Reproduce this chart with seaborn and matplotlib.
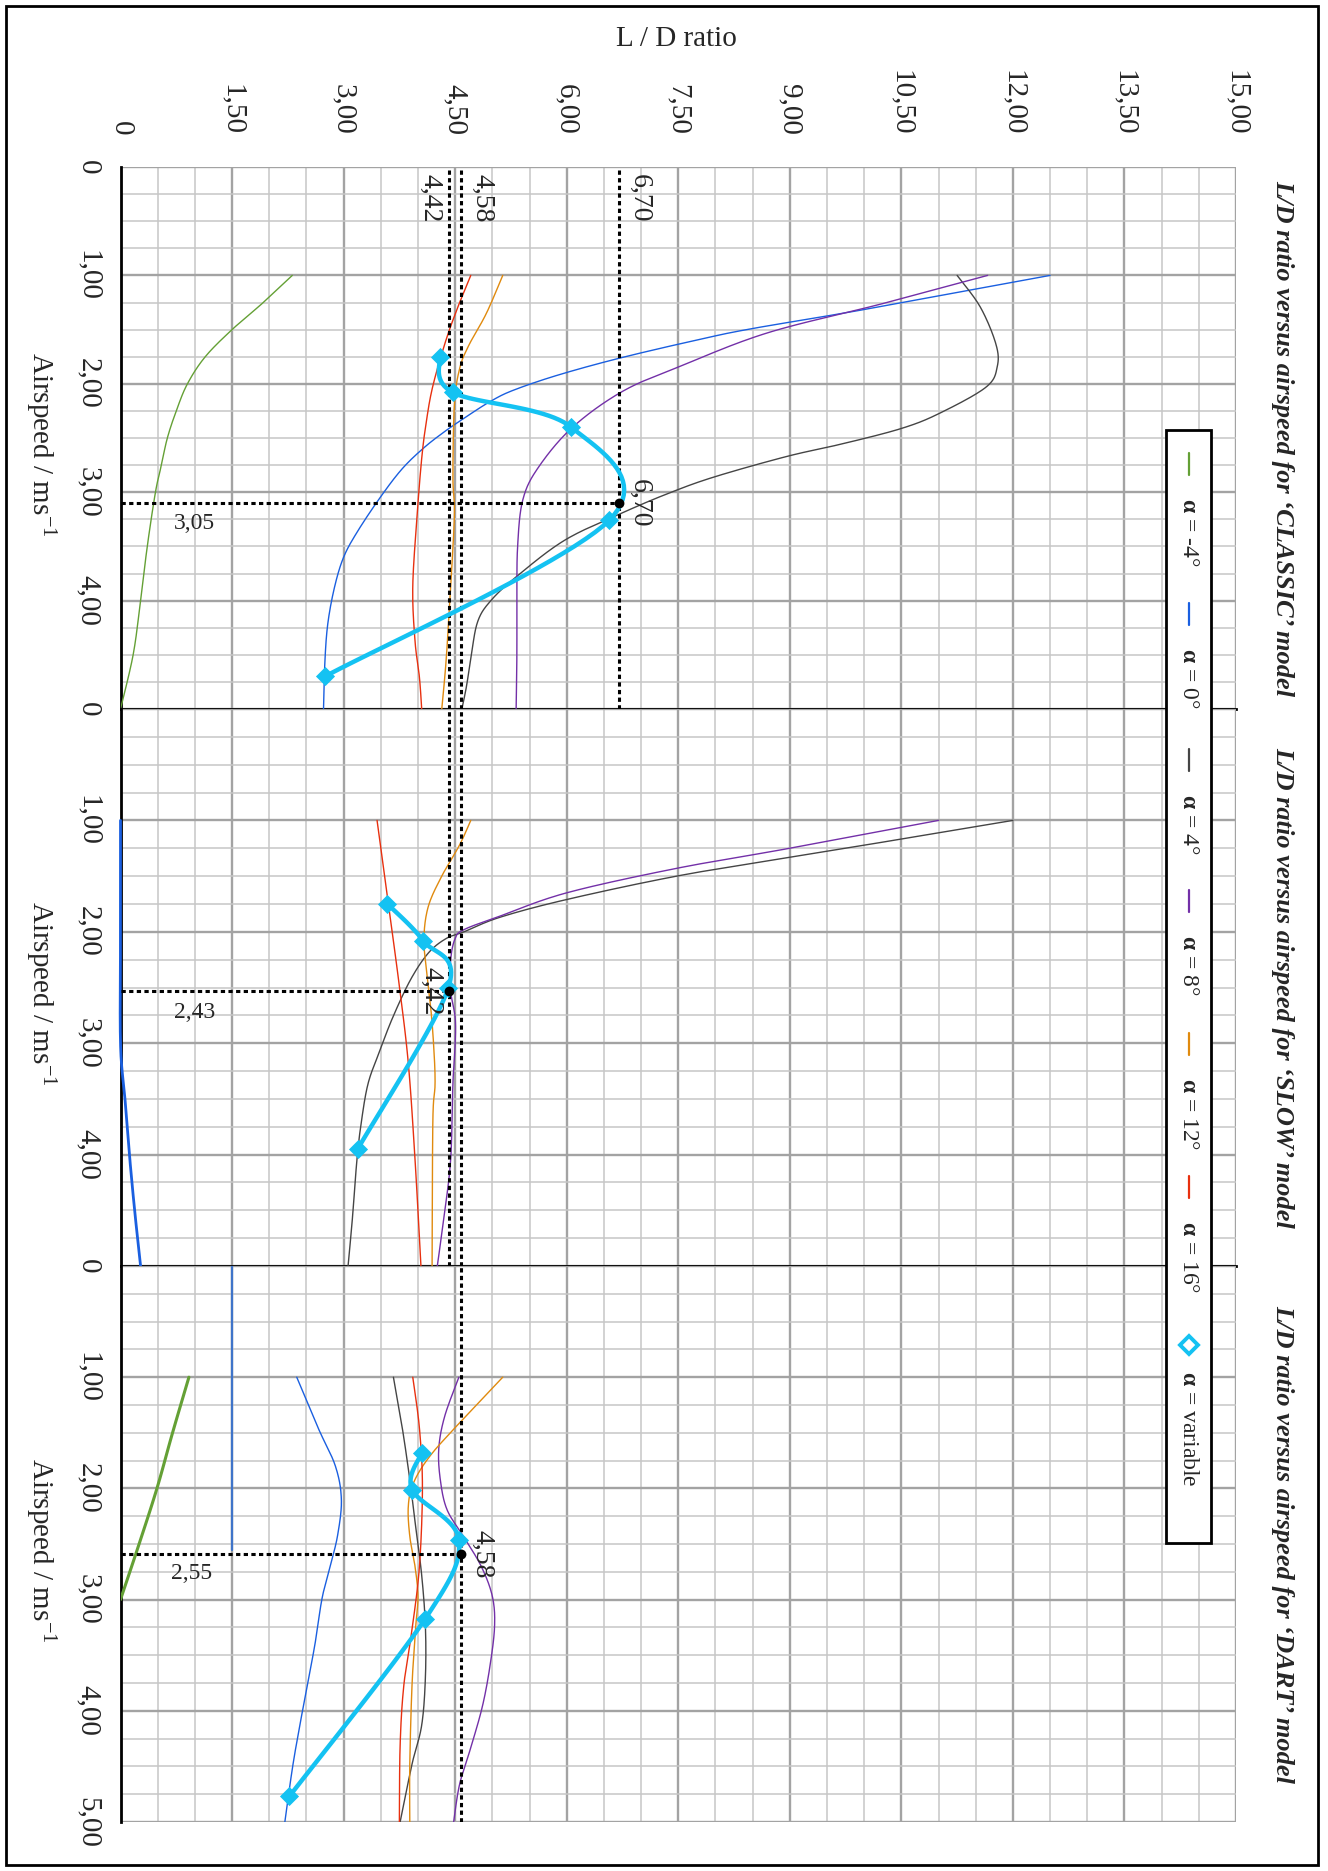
import numpy as np
import matplotlib
matplotlib.use("Agg")
import matplotlib.pyplot as plt
import seaborn as sns
from matplotlib.lines import Line2D
from matplotlib.patches import Rectangle

# ---------------- data ----------------
ld_ticks = [0, 1.5, 3, 4.5, 6, 7.5, 9, 10.5, 12, 13.5, 15]
ld_tick_labels = ["0", "1,50", "3,00", "4,50", "6,00", "7,50", "9,00",
                  "10,50", "12,00", "13,50", "15,00"]
speed_ticks = [0, 1, 2, 3, 4, 5]
speed_tick_labels = ["0", "1,00", "2,00", "3,00", "4,00", "5,00"]

panel_titles = ["L/D ratio versus airspeed for \u2018CLASSIC\u2019 model",
                "L/D ratio versus airspeed for \u2018SLOW\u2019 model",
                "L/D ratio versus airspeed for \u2018DART\u2019 model"]
series_labels = ["-4\u00b0", "0\u00b0", "4\u00b0", "8\u00b0", "12\u00b0", "16\u00b0", "variable"]
series_colors = ["#64A035", "#1A5FE0", "#454545", "#7330A8", "#E08A0E", "#E8300F", "#14C2F2"]

# CLASSIC model (airspeed, L/D)
classic_speed_m4 = [1.0, 1.25, 1.5, 1.75, 2.0, 2.25, 2.5, 2.75, 3.0, 3.5, 4.0, 4.5, 5.0]
classic_ld_m4 = [2.31, 1.92, 1.50, 1.14, 0.90, 0.75, 0.63, 0.55, 0.47, 0.36, 0.27, 0.17, 0.0]
classic_speed_0 = [1.0, 1.31, 1.49, 1.59, 1.76, 1.92, 2.06, 2.16, 2.29, 2.43, 2.59, 2.79, 3.06,
                   3.37, 3.60, 3.87, 4.20, 4.54, 5.0]
classic_ld_0 = [12.50, 10.04, 8.50, 7.79, 6.73, 5.88, 5.28, 4.98, 4.68, 4.38, 4.08, 3.78, 3.48,
                3.18, 3.00, 2.88, 2.79, 2.75, 2.73]
classic_speed_4 = [1.0, 1.29, 1.63, 1.84, 2.03, 2.27, 2.41, 2.55, 2.67, 2.86, 3.01, 3.19, 3.44,
                   3.77, 4.0, 4.20, 4.54, 4.80, 5.0]
classic_ld_4 = [11.25, 11.56, 11.77, 11.79, 11.64, 11.02, 10.51, 9.73, 8.96, 7.98, 7.37, 6.75,
                5.98, 5.34, 4.98, 4.80, 4.71, 4.65, 4.59]
classic_speed_8 = [1.0, 1.26, 1.53, 1.84, 2.07, 2.40, 2.77, 3.07, 3.5, 4.0, 4.5, 5.0]
classic_ld_8 = [11.66, 10.25, 8.70, 7.52, 6.75, 6.08, 5.62, 5.41, 5.34, 5.33, 5.33, 5.32]
classic_speed_12 = [1.0, 1.35, 1.65, 1.86, 2.19, 2.86, 3.20, 3.87, 4.54, 5.0]
classic_ld_12 = [5.14, 4.92, 4.68, 4.56, 4.49, 4.47, 4.49, 4.44, 4.38, 4.32]
classic_speed_16 = [1.0, 1.25, 1.59, 2.02, 2.36, 2.69, 3.20, 3.87, 4.37, 4.71, 5.0]
classic_ld_16 = [4.71, 4.56, 4.38, 4.20, 4.11, 4.05, 3.99, 3.93, 3.96, 4.02, 4.05]
classic_speed_var = [1.75, 2.08, 2.40, 3.26, 4.70]
classic_ld_var = [4.29, 4.47, 6.06, 6.57, 2.75]

# SLOW model
slow_speed_0 = [1.0, 2.0, 3.0, 3.5, 4.0, 4.5, 5.0]
slow_ld_0 = [0.0, 0.0, 0.0, 0.06, 0.12, 0.19, 0.27]
slow_speed_4 = [1.0, 1.17, 1.33, 1.50, 1.71, 1.87, 2.0, 2.06, 2.19, 2.43, 2.77, 3.08, 3.36,
                3.70, 4.04, 4.56, 5.0]
slow_ld_4 = [12.0, 10.48, 9.0, 7.48, 6.0, 5.10, 4.62, 4.38, 4.14, 3.90, 3.66, 3.48, 3.33,
             3.24, 3.18, 3.12, 3.06]
slow_speed_8 = [1.0, 1.25, 1.43, 1.65, 1.86, 1.98, 2.06, 2.25, 2.53, 2.77, 3.01, 3.36, 4.04,
                4.56, 5.0]
slow_ld_8 = [11.0, 9.0, 7.48, 6.0, 5.10, 4.62, 4.50, 4.44, 4.44, 4.50, 4.50, 4.47, 4.44,
             4.35, 4.26]
slow_speed_12 = [1.0, 1.22, 1.50, 1.77, 2.05, 2.32, 2.67, 3.01, 3.36, 3.70, 5.0]
slow_ld_12 = [4.71, 4.56, 4.32, 4.14, 4.08, 4.11, 4.17, 4.21, 4.23, 4.20, 4.19]
slow_speed_16 = [1.0, 1.74, 2.49, 3.18, 4.04, 5.0]
slow_ld_16 = [3.45, 3.60, 3.75, 3.87, 3.96, 4.04]
slow_speed_var = [1.75, 2.08, 2.50, 3.95]
slow_ld_var = [3.59, 4.07, 4.41, 3.19]

# DART model
dart_speed_m4 = [1.0, 1.5, 2.0, 2.5, 3.0]
dart_ld_m4 = [0.92, 0.70, 0.49, 0.25, 0.0]
dart_speed_0 = [1.0, 1.46, 1.80, 2.10, 2.42, 2.70, 2.99, 3.42, 3.99, 4.48, 5.0]
dart_ld_0 = [2.37, 2.66, 2.89, 2.97, 2.92, 2.82, 2.71, 2.61, 2.45, 2.32, 2.21]
dart_speed_4 = [1.0, 1.46, 1.92, 2.35, 2.78, 3.24, 3.70, 4.13, 4.48, 5.0]
dart_ld_4 = [3.67, 3.79, 3.89, 3.97, 4.05, 4.10, 4.10, 4.05, 3.92, 3.76]
dart_speed_8 = [1.0, 1.35, 1.64, 1.92, 2.19, 2.43, 2.70, 2.97, 3.24, 3.59, 3.95, 4.31, 4.66, 5.0]
dart_ld_8 = [4.55, 4.36, 4.28, 4.30, 4.39, 4.61, 4.85, 5.0, 5.03, 4.97, 4.87, 4.72, 4.56, 4.48]
dart_speed_12 = [1.0, 1.41, 1.71, 1.95, 2.16, 2.43, 2.70, 2.97, 3.24, 3.77, 4.48, 5.0]
dart_ld_12 = [5.14, 4.56, 4.16, 3.94, 3.87, 3.89, 3.96, 4.0, 3.97, 3.92, 3.89, 3.89]
dart_speed_16 = [1.0, 1.46, 1.99, 2.70, 3.27, 3.77, 4.31, 5.0]
dart_ld_16 = [3.93, 4.02, 4.06, 4.02, 3.92, 3.81, 3.76, 3.75]
dart_speed_var = [1.68, 2.01, 2.46, 3.17, 4.77]
dart_ld_var = [4.05, 3.92, 4.55, 4.10, 2.27]
dart_ref_ld = [1.5, 1.5]
dart_ref_speed = [0.0, 2.55]

# best L/D annotations
peak_ld = [6.70, 4.42, 4.58]
peak_speed = [3.10, 2.53, 2.59]
peak_ld_labels = ["6,70", "4,42", "4,58"]
peak_speed_labels = ["3,05", "2,43", "2,55"]

panels = [
    [(classic_speed_m4, classic_ld_m4), (classic_speed_0, classic_ld_0),
     (classic_speed_4, classic_ld_4), (classic_speed_8, classic_ld_8),
     (classic_speed_12, classic_ld_12), (classic_speed_16, classic_ld_16),
     (classic_speed_var, classic_ld_var)],
    [None, (slow_speed_0, slow_ld_0), (slow_speed_4, slow_ld_4), (slow_speed_8, slow_ld_8),
     (slow_speed_12, slow_ld_12), (slow_speed_16, slow_ld_16), (slow_speed_var, slow_ld_var)],
    [(dart_speed_m4, dart_ld_m4), (dart_speed_0, dart_ld_0), (dart_speed_4, dart_ld_4),
     (dart_speed_8, dart_ld_8), (dart_speed_12, dart_ld_12), (dart_speed_16, dart_ld_16),
     (dart_speed_var, dart_ld_var)],
]


def smooth(xs, ys, sx=74.4, sy=110.0, n=24):
    """Excel-like smoothed line through the points (Catmull-Rom Bezier)."""
    P = np.column_stack([np.asarray(xs, float) * sx, np.asarray(ys, float) * sy])
    if len(P) < 3:
        return np.asarray(xs), np.asarray(ys)
    ext = np.vstack([P[0], P, P[-1]])
    out = [P[0]]
    t = np.linspace(0, 1, n)[1:, None]
    for i in range(1, len(ext) - 2):
        p0, p1, p2, p3 = ext[i - 1], ext[i], ext[i + 1], ext[i + 2]
        c1 = p1 + (p2 - p0) / 6.0
        c2 = p2 - (p3 - p1) / 6.0
        b = (1 - t) ** 3 * p1 + 3 * (1 - t) ** 2 * t * c1 + 3 * (1 - t) * t ** 2 * c2 + t ** 3 * p2
        out.extend(b)
    out = np.array(out)
    return out[:, 0] / sx, out[:, 1] / sy


# ---------------- style ----------------
sns.set_theme(style="white")
plt.rcParams['font.family'] = ['Liberation Serif', 'DejaVu Serif']
plt.rcParams['mathtext.fontset'] = 'custom'
plt.rcParams['mathtext.rm'] = 'Liberation Serif'
plt.rcParams['mathtext.it'] = 'Liberation Serif:italic'
plt.rcParams['mathtext.bf'] = 'Liberation Serif:bold'

W_PX, H_PX = 1328, 1871
fig = plt.figure(figsize=(W_PX / 100, H_PX / 100), dpi=100)
fig.patch.set_facecolor("white")

left_px, right_px = 120.5, 1236.0
panel_px = [(167, 709), (709, 1266), (1266, 1822)]

dot_style = dict(color="black", lw=2.2, linestyle=(0, (1.4, 1.1)), zorder=4)
vlines_per_panel = [[4.42, 4.58, 6.70], [4.42, 4.58], [4.58]]

axes = []
for k, (top, bot) in enumerate(panel_px):
    ax = fig.add_axes([left_px / W_PX, 1 - bot / H_PX, (right_px - left_px) / W_PX, (bot - top) / H_PX])
    axes.append(ax)
    ax.set_facecolor("white")
    ax.set_xlim(0, 15)
    ax.set_ylim(5, 0)
    ax.set_xticks(ld_ticks)
    ax.set_xticks(np.arange(0, 15.01, 0.5), minor=True)
    ax.set_yticks(speed_ticks)
    ax.set_yticks(np.arange(0, 5.01, 0.25), minor=True)
    ax.grid(which='major', color='#A3A3A3', lw=1.7)
    ax.grid(which='minor', color='#C6C6C6', lw=1.1)
    ax.set_axisbelow(True)
    ax.tick_params(which='both', length=0)
    ylabels = list(speed_tick_labels) if k == 2 else speed_tick_labels[:-1] + [""]
    ax.set_yticklabels(ylabels, rotation=-90, va='center', fontsize=21)
    ax.tick_params(axis='y', pad=14)
    if k == 0:
        ax.xaxis.tick_top()
        ax.set_xticklabels(ld_tick_labels, rotation=-90, fontsize=21)
        ax.tick_params(axis='x', pad=23)
    else:
        ax.tick_params(axis='x', labelbottom=False, labeltop=False)
    for side in ["top", "right", "bottom", "left"]:
        ax.spines[side].set_visible(False)
    ax.spines["left"].set_visible(True)
    ax.spines["left"].set_color("black")
    ax.spines["left"].set_linewidth(2.0)
    if k < 2:
        ax.spines["bottom"].set_visible(True)
        ax.spines["bottom"].set_color("black")
        ax.spines["bottom"].set_linewidth(2.0)

    # curves
    for j, series in enumerate(panels[k]):
        if series is None:
            continue
        sp, ld = series
        col = series_colors[j]
        if j == 6:
            xs, ys = smooth(ld, sp)
            sns.lineplot(x=xs, y=ys, sort=False, estimator=None, color=col, linewidth=3.2,
                         ax=ax, zorder=5)
            sns.scatterplot(x=ld, y=sp, marker='D', s=95, color=col, edgecolor=col,
                            linewidth=0, ax=ax, zorder=6)
        else:
            xs, ys = smooth(ld, sp)
            lw = 1.0
            clip = True
            z = 3
            if k == 1 and j == 1:
                lw, clip = 2.0, False
            if k == 2 and j == 0:
                lw = 2.2
            sns.lineplot(x=xs, y=ys, sort=False, estimator=None, color=col, linewidth=lw,
                         ax=ax, zorder=z, clip_on=clip)

    # best L/D annotations
    for v in vlines_per_panel[k]:
        ax.axvline(v, **dot_style)
    ax.plot([0, peak_ld[k]], [peak_speed[k], peak_speed[k]], **dot_style)
    sns.scatterplot(x=[peak_ld[k]], y=[peak_speed[k]], color="black", s=50, linewidth=0,
                    ax=ax, zorder=8)

# reference blue line in DART panel
sns.lineplot(x=dart_ref_ld, y=dart_ref_speed, sort=False, estimator=None, color="#3F74C9",
             linewidth=1.6, ax=axes[2], zorder=3)

# labels on the best L/D lines (top of CLASSIC panel)
a0 = axes[0]
a0.text(4.33, 0.06, "4,42", rotation=-90, ha='right', va='top', fontsize=20, zorder=9)
a0.text(4.69, 0.06, "4,58", rotation=-90, ha='left', va='top', fontsize=20, zorder=9)
a0.text(6.81, 0.06, "6,70", rotation=-90, ha='left', va='top', fontsize=20, zorder=9)
a0.text(6.81, peak_speed[0], peak_ld_labels[0], rotation=-90, ha='left', va='center',
        fontsize=20, zorder=9)
a0.text(0.72, peak_speed[0] + 0.09, peak_speed_labels[0], ha='left', va='top', fontsize=17, zorder=9)
axes[1].text(4.35, peak_speed[1], peak_ld_labels[1], rotation=-90, ha='right', va='center',
             fontsize=20, zorder=9)
axes[1].text(0.72, peak_speed[1] + 0.10, peak_speed_labels[1], ha='left', va='top', fontsize=17, zorder=9)
axes[2].text(4.69, peak_speed[2], peak_ld_labels[2], rotation=-90, ha='left', va='center',
             fontsize=20, zorder=9)
axes[2].text(0.68, peak_speed[2] + 0.08, peak_speed_labels[2], ha='left', va='top', fontsize=17, zorder=9)

# axis titles
fig.text(676.5 / W_PX, 1 - 39.5 / H_PX, "L / D ratio", ha='center', va='center', fontsize=21)
for (top, bot), title in zip(panel_px, panel_titles):
    yc = 1 - (top + bot) / 2 / H_PX
    fig.text(40 / W_PX, yc - 6 / H_PX, "Airspeed / ms$^{-1}$", rotation=-90, ha='center',
             va='center', fontsize=21)
    fig.text(1283 / W_PX, yc, title, rotation=-90, ha='center', va='center', fontsize=19,
             fontstyle='italic', fontweight='bold')

# legend (vertical, rotated text)
fig.add_artist(Rectangle((1166 / W_PX, 1 - 1543 / H_PX), 45 / W_PX, (1543 - 430) / H_PX,
                         transform=fig.transFigure, facecolor='white', edgecolor='black',
                         lw=2.0, zorder=10))
leg_centers = [464, 614, 760, 901, 1044, 1187, 1345]
xc = 1188.5 / W_PX
for j, yc_px in enumerate(leg_centers):
    col = series_colors[j]
    if j < 6:
        fig.add_artist(Line2D([xc, xc], [1 - (yc_px - 11) / H_PX, 1 - (yc_px + 11) / H_PX],
                              transform=fig.transFigure, color=col, lw=1.6, zorder=11))
        ty = yc_px + 34
    else:
        fig.add_artist(Line2D([xc], [1 - yc_px / H_PX], transform=fig.transFigure, marker='D',
                              markersize=9, markerfacecolor='white', markeredgecolor=col,
                              markeredgewidth=2.8, zorder=11))
        ty = yc_px + 26
    fig.text(xc, 1 - ty / H_PX, r"$\mathbf{\alpha}$ = " + series_labels[j], rotation=-90,
             ha='center', va='top', fontsize=17, zorder=12)

# outer frame
fig.add_artist(Rectangle((6 / W_PX, 6 / H_PX), (1318 - 6) / W_PX, (1865 - 6) / H_PX,
                         transform=fig.transFigure, facecolor='none', edgecolor='black',
                         lw=2.0, zorder=20))

fig.savefig("out.png", dpi=100, facecolor="white")
